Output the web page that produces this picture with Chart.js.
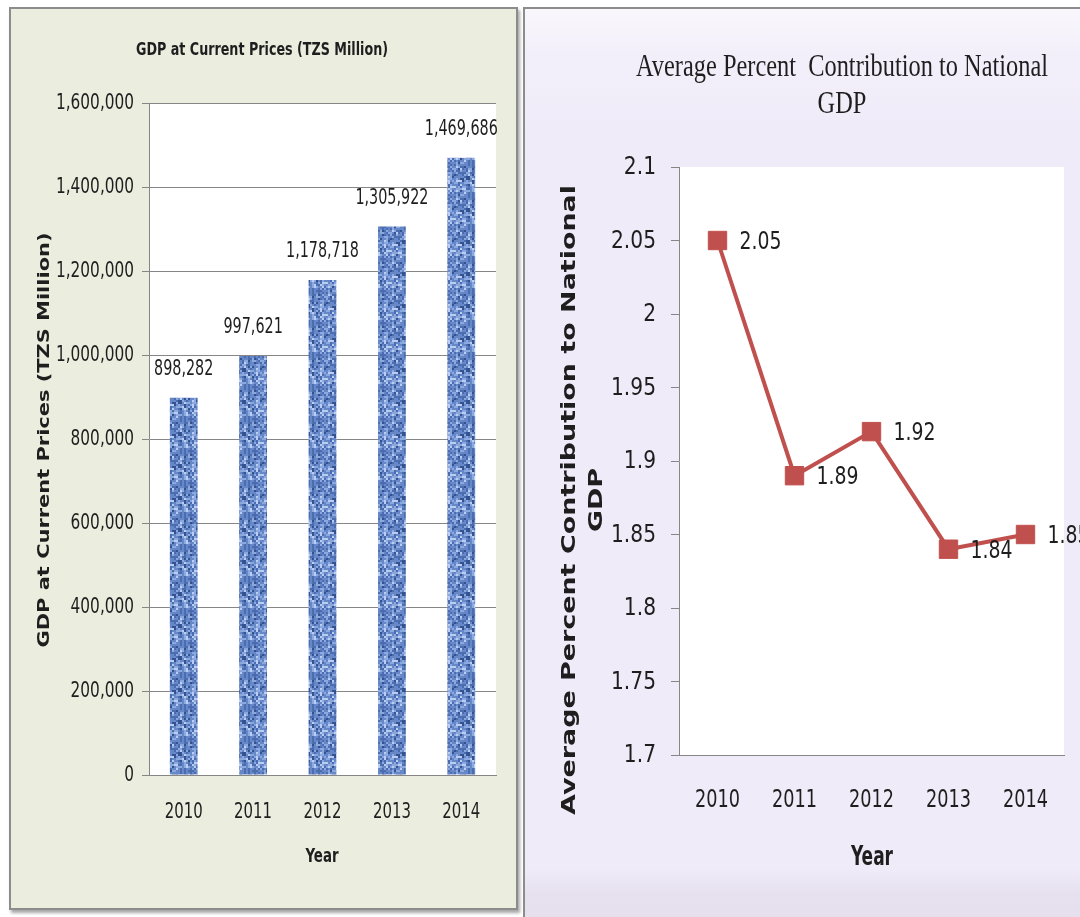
<!DOCTYPE html>
<html>
<head>
<meta charset="utf-8">
<script src="https://cdn.jsdelivr.net/npm/chart.js@4.4.1/dist/chart.umd.min.js"></script>
<style>
html,body{margin:0;padding:0;background:#ffffff;width:1080px;height:917px;overflow:hidden;position:relative;}
#panel1{position:absolute;left:9px;top:7px;width:509px;height:903px;box-sizing:border-box;background:#EBEEDF;border:2px solid #8C8C8C;box-shadow:2px 3px 3px rgba(0,0,0,0.35);}
#panel2{position:absolute;left:523px;top:7px;width:600px;height:930px;box-sizing:border-box;border-left:2px solid #8C8C8C;border-top:2px solid #8C8C8C;
  background:linear-gradient(to bottom,#F9F7FC 0px,#F3EFFA 45px,#F0EBF8 120px,#F0EBF8 860px,#E6E0EF 885px,#E4DEED 930px);}
#c1{position:absolute;left:10px;top:8px;}
#c2{position:absolute;left:524px;top:8px;}
</style>
</head>
<body>
<div id="panel1"></div>
<div id="panel2"></div>
<canvas id="c1" width="507" height="901"></canvas>
<canvas id="c2" width="556" height="909"></canvas>
<script>
// ---- data ----
const years = ['2010', '2011', '2012', '2013', '2014'];
const gdpValues = [898282, 997621, 1178718, 1305922, 1469686];
const gdpTicks = [0, 200000, 400000, 600000, 800000, 1000000, 1200000, 1400000, 1600000];
const contribValues = [2.05, 1.89, 1.92, 1.84, 1.85];
const contribTicks = [1.7, 1.75, 1.8, 1.85, 1.9, 1.95, 2, 2.05, 2.1];

const leftTitle = 'GDP at Current Prices (TZS Million)';
const leftYTitle = 'GDP at Current Prices (TZS Million)';
const rightTitle = ['Average Percent  Contribution to National', 'GDP'];
const rightYTitle = ['Average Percent Contribution to National', 'GDP'];
const xTitle = 'Year';

// ---- styling ----
const NARROW = "'Liberation Sans Narrow', 'DejaVu Sans Condensed', sans-serif";
const AXIS_GRAY = '#868686';
const TEXT = '#1e1e1e';

Chart.defaults.color = TEXT;

const plotBg = {
  id: 'plotBg',
  beforeDraw(chart) {
    const {ctx, chartArea: a} = chart;
    ctx.save();
    ctx.fillStyle = '#ffffff';
    ctx.fillRect(a.left, a.top, a.right - a.left, a.bottom - a.top);
    ctx.restore();
  }
};

function drawScaledText(ctx, text, cx, cy, font, scale, rotation, align) {
  ctx.save();
  ctx.translate(cx, cy);
  ctx.rotate(rotation || 0);
  ctx.scale(scale, 1);
  ctx.font = font;
  ctx.textAlign = align || 'center';
  ctx.textBaseline = 'middle';
  ctx.fillStyle = TEXT;
  ctx.fillText(text, 0, 0);
  ctx.restore();
}
function fitScale(ctx, text, font, target) {
  ctx.save(); ctx.font = font;
  const w = ctx.measureText(text).width;
  ctx.restore();
  return target / w;
}

// generic text layer: tick labels, axis titles, value labels (drawn through the chart's scales)
function makeTextLayer(cfg) {
  return {
    id: 'textLayer',
    afterDraw(chart) {
      const ctx = chart.ctx;
      const xs = chart.scales.x, ys = chart.scales.y;
      // y tick labels
      const ySc = fitScale(ctx, cfg.yRef, cfg.yFont, cfg.yRefW);
      ys.ticks.forEach(t => {
        drawScaledText(ctx, cfg.yFmt(t.value), cfg.yRight, ys.getPixelForValue(t.value) + 1, cfg.yFont, ySc, 0, 'right');
      });
      // x tick labels
      const xSc = fitScale(ctx, '2010', cfg.xFont, cfg.xRefW);
      chart.data.labels.forEach((lab, i) => {
        drawScaledText(ctx, lab, xs.getPixelForTick(i), cfg.xY, cfg.xFont, xSc, 0, 'center');
      });
      // x title
      drawScaledText(ctx, xTitle, cfg.xtX, cfg.xtY, cfg.xtFont, fitScale(ctx, xTitle, cfg.xtFont, cfg.xtW), 0, 'center');
      // chart title lines
      const tSc = fitScale(ctx, cfg.title[0], cfg.tFont, cfg.tW);
      cfg.title.forEach((line, k) => drawScaledText(ctx, line, cfg.tX, cfg.tY + k * cfg.tLH, cfg.tFont, tSc, 0, 'center'));
      // y title lines (rotated)
      const yTSc = fitScale(ctx, cfg.yTitle[0], cfg.ytFont, cfg.ytW);
      cfg.yTitle.forEach((line, k) => drawScaledText(ctx, line, cfg.ytX + k * cfg.ytLH, cfg.ytY, cfg.ytFont, yTSc, -Math.PI / 2, 'center'));
      // value labels
      const meta = chart.getDatasetMeta(0);
      const data = chart.data.datasets[0].data;
      const vSc = fitScale(ctx, cfg.vRef, cfg.vFont, cfg.vRefW);
      meta.data.forEach((el, i) => {
        drawScaledText(ctx, cfg.vFmt(data[i]), el.x + cfg.vDx, el.y + cfg.vDy, cfg.vFont, vSc, 0, cfg.vAlign);
      });
    }
  };
}

// denim-like texture for bars
function makeDenim(targetCanvas) {
  const c = document.createElement('canvas');
  const N = 16, CW = 2, CH = 2;
  c.width = N * CW; c.height = N * CH;
  const g = c.getContext('2d');
  const cols = ['#34528F', '#4B6CAE', '#6687C8', '#8CA9DF', '#B9CEF2'];
  for (let i = 0; i < N; i++) {
    for (let j = 0; j < N; j++) {
      let h = Math.sin(i * 12.9898 + j * 78.233) * 43758.5453;
      h = h - Math.floor(h);
      let h2 = Math.sin((i + 3) * 4.1414 + Math.floor(j / 2) * 17.17) * 24634.6345;
      h2 = h2 - Math.floor(h2);
      const v = 0.6 * h + 0.4 * h2;
      const idx = Math.min(4, Math.floor(v * 5));
      g.fillStyle = cols[idx];
      g.fillRect(i * CW, j * CH, CW, CH);
    }
  }
  return targetCanvas.getContext('2d').createPattern(c, 'repeat');
}

// ---- left chart: bars ----
const c1 = document.getElementById('c1');
new Chart(c1, {
  type: 'bar',
  data: {
    labels: years,
    datasets: [{
      data: gdpValues,
      backgroundColor: makeDenim(c1),
      borderWidth: 0,
      barPercentage: 0.4,
      categoryPercentage: 1.0
    }]
  },
  options: {
    responsive: false,
    animation: false,
    devicePixelRatio: 1,
    layout: {padding: {left: 0, right: 21, top: 95, bottom: 0}},
    plugins: {legend: {display: false}, tooltip: {enabled: false}, title: {display: false}},
    scales: {
      x: {
        grid: {display: false, drawTicks: false},
        border: {display: true, color: AXIS_GRAY, width: 1},
        ticks: {display: false},
        afterFit(s) { s.height = 134; }
      },
      y: {
        min: 0, max: 1600000,
        afterBuildTicks(s) { s.ticks = gdpTicks.map(v => ({value: v})); },
        grid: {color: AXIS_GRAY, tickLength: 7, drawTicks: true},
        border: {display: true, color: AXIS_GRAY, width: 1},
        ticks: {display: false},
        afterFit(s) { s.width = 139; }
      }
    }
  },
  plugins: [plotBg, makeTextLayer({
    yFont: '21px ' + NARROW, yRef: '1,600,000', yRefW: 78, yRight: 124, yFmt: v => Number(v).toLocaleString('en-US'),
    xFont: '21px ' + NARROW, xRefW: 38, xY: 805,
    xtFont: 'bold 20px ' + NARROW, xtW: 33, xtX: 312, xtY: 849,
    title: [leftTitle], tFont: 'bold 18px ' + NARROW, tW: 252, tX: 252, tY: 42, tLH: 0,
    yTitle: [leftYTitle], ytFont: 'bold 16px "DejaVu Sans", sans-serif', ytW: 415, ytX: 35, ytY: 432, ytLH: 0,
    vFont: '21px ' + NARROW, vRef: '1,469,686', vRefW: 73, vDx: 0, vDy: -28, vAlign: 'center', vFmt: v => v.toLocaleString('en-US')
  })]
});

// ---- right chart: line ----
const c2 = document.getElementById('c2');
new Chart(c2, {
  type: 'line',
  data: {
    labels: years,
    datasets: [{
      data: contribValues,
      borderColor: '#C0504D',
      borderWidth: 4,
      tension: 0,
      pointStyle: 'rect',
      pointRadius: 13,
      pointBackgroundColor: '#C0504D',
      pointBorderColor: '#C0504D',
      pointBorderWidth: 1
    }]
  },
  options: {
    responsive: false,
    animation: false,
    devicePixelRatio: 1,
    layout: {padding: {left: 0, right: 16, top: 159, bottom: 0}},
    plugins: {legend: {display: false}, tooltip: {enabled: false}, title: {display: false}},
    scales: {
      x: {
        offset: true,
        grid: {display: false, drawTicks: false},
        border: {display: true, color: AXIS_GRAY, width: 1},
        ticks: {display: false},
        afterFit(s) { s.height = 162; }
      },
      y: {
        min: 1.7, max: 2.1,
        afterBuildTicks(s) { s.ticks = contribTicks.map(v => ({value: v})); },
        grid: {drawOnChartArea: false, drawTicks: true, tickLength: 8, color: AXIS_GRAY},
        border: {display: true, color: AXIS_GRAY, width: 1},
        ticks: {display: false},
        afterFit(s) { s.width = 155; }
      }
    }
  },
  plugins: [plotBg, makeTextLayer({
    yFont: '24px ' + NARROW, yRef: '2.05', yRefW: 45, yRight: 132, yFmt: v => String(Number(Number(v).toFixed(2))),
    xFont: '25px ' + NARROW, xRefW: 45, xY: 792,
    xtFont: 'bold 26px ' + NARROW, xtW: 42, xtX: 348, xtY: 850,
    title: rightTitle, tFont: '32px "Liberation Serif", "DejaVu Serif", serif', tW: 412, tX: 318, tY: 60, tLH: 37,
    yTitle: rightYTitle, ytFont: 'bold 20px "DejaVu Sans", sans-serif', ytW: 630, ytX: 46, ytY: 492, ytLH: 27,
    vFont: '25px ' + NARROW, vRef: '2.05', vRefW: 42, vDx: 22, vDy: 2, vAlign: 'left', vFmt: v => v.toFixed(2)
  })]
});
</script>
</body>
</html>
